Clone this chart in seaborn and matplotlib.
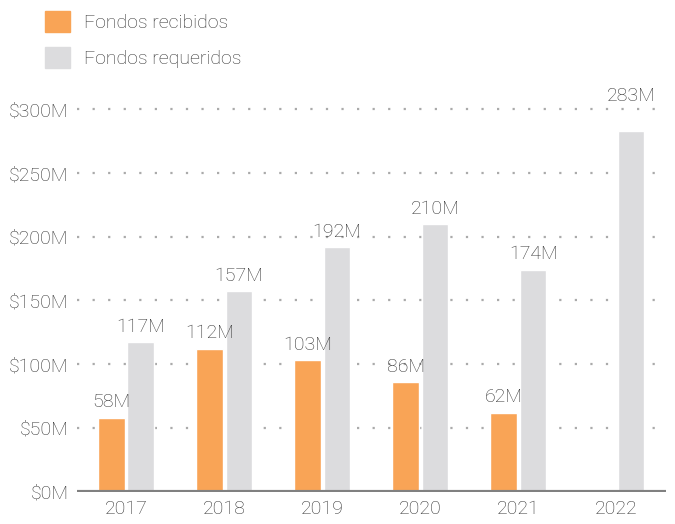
import matplotlib
matplotlib.use('Agg')

import pandas as pd
import numpy as np
import matplotlib.pyplot as plt
import matplotlib.patches as mpatches
import seaborn as sns

sns.set_style("white")
plt.rcParams['font.family'] = ['Roboto', 'DejaVu Sans']
plt.rcParams['font.weight'] = 'light'

# datos (millones USD)
years = ["2017", "2018", "2019", "2020", "2021", "2022"]
recibidos = [58, 112, 103, 86, 62, np.nan]
requeridos = [117, 157, 192, 210, 174, 283]
series = ["Fondos recibidos", "Fondos requeridos"]
yticks = [0, 50, 100, 150, 200, 250, 300]

colors = {"Fondos recibidos": "#F9A456", "Fondos requeridos": "#DCDCDE"}
TXT = "#333333"
FS = 14

df = pd.DataFrame({"year": years * 2,
                   "serie": [series[0]] * 6 + [series[1]] * 6,
                   "valor": recibidos + requeridos})

fig = plt.figure(figsize=(6.75, 5.24), dpi=100)
ax = fig.add_axes([0.114, 0.062, 0.872, 0.778])

sns.barplot(data=df, x="year", y="valor", hue="serie", palette=colors,
            width=0.6, gap=0.1, ax=ax, legend=False, saturation=1)

# etiquetas de valor
vmax = np.nanmax(requeridos)
for cont in ax.containers:
    for bar in cont:
        h = bar.get_height()
        if np.isnan(h) or h == 0:
            continue
        off = 20 if h == vmax else 5
        ax.text(bar.get_x() + bar.get_width() / 2, h + off, f"{h:.0f}M",
                ha='center', va='bottom', fontsize=FS, color=TXT)

ax.set_ylim(0, 320)
ax.set_xlim(-0.5, 5.5)
ax.set_yticks(yticks)
ax.set_yticklabels([f"${v}M" for v in yticks])
ax.set_xlabel("")
ax.set_ylabel("")
for v in yticks[1:]:
    ax.axhline(v, color="#AAAAAA", linestyle=(0, (1, 6)), linewidth=1.6, zorder=0)
ax.axhline(0, color="#808080", linewidth=3, zorder=3)
sns.despine(ax=ax, left=True, bottom=True, top=True, right=True)
ax.tick_params(axis='both', length=0, labelsize=FS, colors=TXT, pad=6)
ax.tick_params(axis='y', pad=6)

handles = [mpatches.Patch(color=colors[s], label=s) for s in series]
fig.legend(handles=handles, loc='upper left', bbox_to_anchor=(0.04, 1.012),
           frameon=False, fontsize=FS, handlelength=1.3, handleheight=1.3,
           handletextpad=0.75, labelspacing=0.75, labelcolor=TXT)

plt.savefig("out.png", dpi=100)
plt.close()
